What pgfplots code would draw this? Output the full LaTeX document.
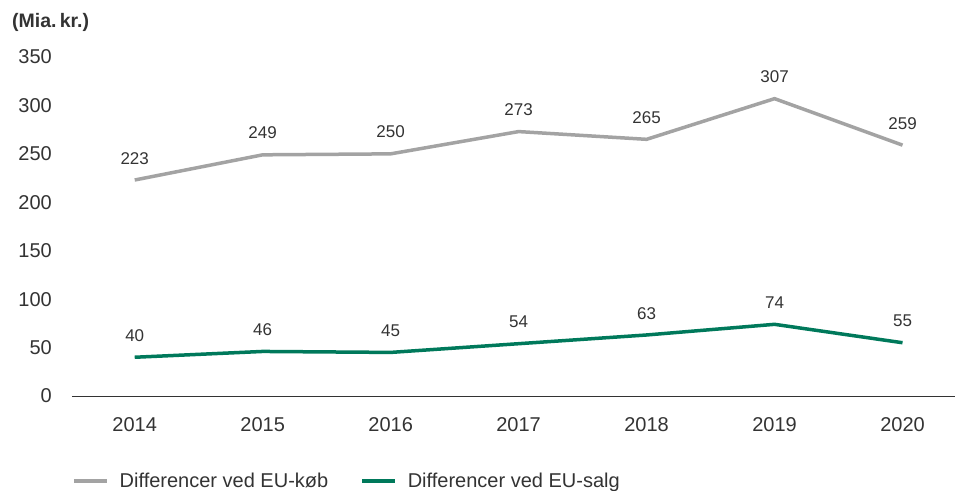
\documentclass[border=0pt]{standalone}
\usepackage{pgfplots}
\pgfplotsset{compat=1.18}
\usepackage{fontspec}
\setmainfont{Liberation Sans}
\definecolor{koeb}{HTML}{A3A3A3}
\definecolor{salg}{HTML}{00795B}
\definecolor{txt}{HTML}{333333}
\begin{document}
\begin{tikzpicture}
\path[use as bounding box] (-72bp,-95bp) rectangle (883bp,396bp);
\node[anchor=west, text=txt, inner sep=0pt, font=\fontsize{19.5bp}{22bp}\selectfont\bfseries] at (-60bp,374bp) {(Mia.\,kr.)};
\begin{axis}[
  at={(0,0)}, anchor=south west,
  scale only axis, width=883bp, height=339bp,
  xmin=-0.49, xmax=6.41, ymin=0, ymax=350,
  axis x line=bottom, axis y line=left,
  x axis line style={-, draw=txt, line width=1bp},
  y axis line style={draw=none},
  major tick length=0pt,
  xtick={0,...,6},
  xticklabels={2014,2015,2016,2017,2018,2019,2020},
  ytick={0,50,...,350},
  /pgf/number format/assume math mode=true,
  tick label style={font=\fontsize{20bp}{24bp}\selectfont, text=txt},
  yticklabel style={anchor=east, inner sep=0pt, xshift=-20bp},
  xticklabel style={anchor=north, inner sep=0pt, yshift=-21bp},
  legend columns=2,
  legend style={draw=none, fill=none, at={(0.0,-0.2507)}, anchor=west, inner sep=0pt,
    font=\fontsize{20bp}{24bp}\selectfont, text=txt,
    nodes={inner sep=0pt},
    /tikz/every odd column/.append style={column sep=11bp},
    /tikz/every even column/.append style={column sep=32bp}},
  legend image code/.code={\draw[#1, line width=3.5bp] (0bp,0bp) -- (33bp,0bp);},
  every node near coord/.append style={font=\fontsize{17bp}{20bp}\selectfont, text=txt, inner sep=0pt, anchor=south, yshift=14bp},
]
\addplot[koeb, line width=3.5bp, nodes near coords] coordinates {(0,223) (1,249) (2,250) (3,273) (4,265) (5,307) (6,259)};
\addlegendentry{Differencer ved EU-køb}
\addplot[salg, line width=3.5bp, nodes near coords] coordinates {(0,40) (1,46) (2,45) (3,54) (4,63) (5,74) (6,55)};
\addlegendentry{Differencer ved EU-salg}
\end{axis}
\end{tikzpicture}
\end{document}
